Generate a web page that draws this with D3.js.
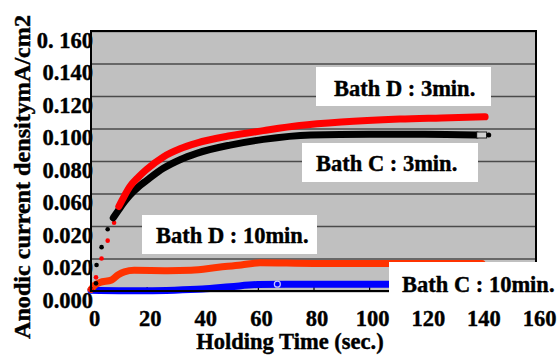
<!DOCTYPE html>
<html>
<head>
<meta charset="utf-8">
<script src="https://cdn.jsdelivr.net/npm/d3@7/dist/d3.min.js"></script>
<style>
  html, body { margin: 0; padding: 0; background: #fff; }
  svg { display: block; }
</style>
</head>
<body>
<svg id="chart" width="559" height="358"></svg>
<script>
// Holding time (sec.) and anodic current density (mA/cm2) for each bath
const xTicks = [0, 20, 40, 60, 80, 100, 120, 140, 160];
const xTickLabels = ["0", "20", "40", "60", "80", "100", "120", "140", "160"];
const yTicks = [0, 0.02, 0.04, 0.06, 0.08, 0.10, 0.12, 0.14, 0.16];
const yTickLabels = ["0.000", "0.020", "0.020", "0.060", "0.080", "0.100", "0.120", "0.140", "0. 160"];

// Bath D : 3min. — first readings are sparse points, then a dense trace
const bathD3Start = [[0, 0.001], [1.8, 0.0084], [3.8, 0.020], [6.0, 0.031], [8.3, 0.042]];
const bathD3 = [[10, 0.052], [12, 0.0585], [14, 0.0643], [17, 0.0700], [20, 0.0748], [26, 0.0825],
  [32, 0.0875], [38, 0.091], [50, 0.0955], [62, 0.0987], [75, 0.1018], [90, 0.104], [111, 0.1058],
  [126, 0.1065], [141.7, 0.1072]];

// Bath C : 3min.
const bathC3Start = [[0, 0.001], [1.8, 0.0047], [2.0, 0.016], [3.8, 0.027], [6.0, 0.038]];
const bathC3 = [[8.0, 0.045], [10, 0.050], [12, 0.0548], [14, 0.059], [17, 0.064], [20, 0.068],
  [26, 0.0755], [32, 0.0808], [38, 0.0847], [50, 0.0898], [62, 0.0933], [79, 0.096], [100, 0.0965],
  [120, 0.0965], [138.7, 0.096]];
const bathC3End = [143, 0.096];

// Bath D : 10min.
const bathD10 = [[0, 0.001], [1.4, 0.0037], [3.2, 0.0052], [7.4, 0.0068], [9.8, 0.010], [12, 0.0118],
  [15.5, 0.0127], [27.5, 0.0125], [36, 0.0128], [45.8, 0.0146], [54, 0.016], [60.8, 0.0174],
  [80, 0.017], [107, 0.017], [140.6, 0.017]];

// Bath C : 10min.
const bathC10 = [[0, 0.0004], [10, 0.0002], [20, 0.0002], [30, 0.0005], [40, 0.0012], [50, 0.0026],
  [60, 0.0040], [70, 0.0042], [100, 0.0042], [140, 0.0042]];
const bathC10Mark = [67, 0.0042];

const svg = d3.select("#chart");
const plot = { left: 91, top: 31, right: 536, bottom: 291 };
const FONT = "'Liberation Serif', 'Times New Roman', serif";

const x = d3.scaleLinear().domain([0, 160]).range([plot.left, plot.right]);
const y = d3.scaleLinear().domain([0, 0.16]).range([plot.bottom, plot.top]);

// heavy bold serif text used throughout
function serif(sel, size) {
  return sel.style("font-family", FONT).style("font-weight", "bold")
    .style("font-size", size + "px").attr("fill", "#000")
    .attr("stroke", "#000").attr("stroke-width", 0.4);
}

// plot background
svg.append("rect")
  .attr("x", plot.left).attr("y", plot.top)
  .attr("width", plot.right - plot.left).attr("height", plot.bottom - plot.top)
  .attr("fill", "#c0c0c0");

// horizontal grid + y labels
const yAxis = svg.append("g")
  .attr("transform", `translate(${plot.left},0)`)
  .call(d3.axisLeft(y).tickValues(yTicks)
    .tickSize(-(plot.right - plot.left))
    .tickFormat((d, i) => yTickLabels[i]));
yAxis.select(".domain").remove();
yAxis.selectAll(".tick line").attr("stroke", "#4a4a4a").attr("stroke-width", 1.6);
serif(yAxis.selectAll(".tick text"), 22.5)
  .attr("x", 2).attr("dy", "0.72em");

// x axis with short inner ticks + labels
const xAxis = svg.append("g")
  .attr("transform", `translate(0,${plot.bottom})`)
  .call(d3.axisBottom(x).tickValues(xTicks)
    .tickSize(-4)
    .tickFormat((d, i) => xTickLabels[i]));
xAxis.select(".domain").remove();
xAxis.selectAll(".tick line").attr("stroke", "#000").attr("stroke-width", 1.2);
serif(xAxis.selectAll(".tick text"), 22.5)
  .attr("y", 20).attr("dy", "0.68em").attr("dx", 3);

const line = d3.line().x(d => x(d[0])).y(d => y(d[1])).curve(d3.curveMonotoneX);

function trace(data, color) {
  svg.append("path").datum(data)
    .attr("d", line)
    .attr("fill", "none")
    .attr("stroke", color)
    .attr("stroke-width", 7)
    .attr("stroke-linecap", "round")
    .attr("stroke-linejoin", "round");
}
function dots(data, color) {
  svg.append("g").selectAll("circle").data(data).join("circle")
    .attr("cx", d => x(d[0])).attr("cy", d => y(d[1]))
    .attr("r", 2.3).attr("fill", color);
}

trace(bathC10, "#0000ff");
svg.append("circle")
  .attr("cx", x(bathC10Mark[0])).attr("cy", y(bathC10Mark[1]))
  .attr("r", 3).attr("fill", "none").attr("stroke", "#c8c8ff").attr("stroke-width", 1.2);

trace(bathD10, "#ff3300");
dots(bathC3Start, "#000");
dots(bathD3Start, "#ff0000");
trace(bathC3, "#000");
trace(bathD3, "#ff0000");

// end marker of the Bath C : 3min. trace
svg.append("rect")
  .attr("x", x(bathC3[bathC3.length - 1][0])).attr("y", y(bathC3End[1]) - 3)
  .attr("width", x(bathC3End[0]) - x(bathC3[bathC3.length - 1][0]) - 2).attr("height", 6)
  .attr("fill", "#d0d0d0").attr("stroke", "#000").attr("stroke-width", 0.8);
svg.append("circle")
  .attr("cx", x(bathC3End[0])).attr("cy", y(bathC3End[1]))
  .attr("r", 2.5).attr("fill", "#000");

// plot frame
svg.append("rect")
  .attr("x", plot.left).attr("y", plot.top)
  .attr("width", plot.right - plot.left).attr("height", plot.bottom - plot.top)
  .attr("fill", "none").attr("stroke", "#000").attr("stroke-width", 2);

// series labels on white boxes
const labels = [
  { text: "Bath D : 3min.", box: [316, 67, 175, 39], tx: 334, ty: 96 },
  { text: "Bath C : 3min.", box: [302, 143, 176, 39], tx: 316, ty: 171 },
  { text: "Bath D : 10min.", box: [142, 215, 175, 39], tx: 156, ty: 243 },
  { text: "Bath C : 10min.", box: [389, 262, 170, 38], tx: 402, ty: 292 }
];
labels.forEach(l => {
  svg.append("rect")
    .attr("x", l.box[0]).attr("y", l.box[1])
    .attr("width", l.box[2]).attr("height", l.box[3])
    .attr("fill", "#fff");
  serif(svg.append("text"), 22.5)
    .attr("x", l.tx).attr("y", l.ty)
    .text(l.text);
});

// axis titles
serif(svg.append("text"), 22.5)
  .attr("x", 290).attr("y", 349)
  .attr("text-anchor", "middle")
  .text("Holding Time (sec.)");

serif(svg.append("text"), 23)
  .attr("transform", `translate(30,177) rotate(-90)`)
  .attr("text-anchor", "middle")
  .attr("textLength", 324)
  .attr("lengthAdjust", "spacingAndGlyphs")
  .text("Anodic current densitymA/cm2");
</script>
</body>
</html>
